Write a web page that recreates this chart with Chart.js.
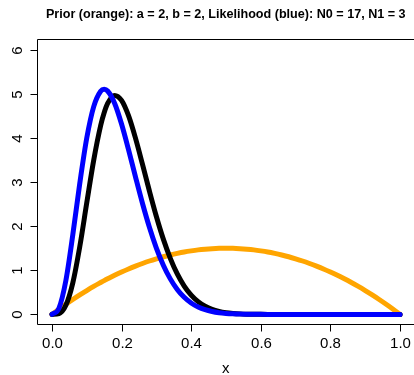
<!DOCTYPE html>
<html>
<head>
<meta charset="utf-8">
<script src="https://cdn.jsdelivr.net/npm/chart.js@4"></script>
<style>
html,body{margin:0;padding:0;background:#fff;}
#wrap{width:414px;height:375px;}
</style>
</head>
<body>
<div id="wrap"><canvas id="c" width="414" height="375"></canvas></div>
<script>
// x grid of the curves
const xs = [0,0.02,0.04,0.06,0.08,0.10,0.12,0.14,0.15,0.16,0.18,0.20,0.22,0.24,0.26,0.28,0.30,0.32,0.34,0.36,0.38,0.40,0.42,0.44,0.46,0.48,0.50,0.52,0.54,0.56,0.58,0.60,0.62,0.64,0.66,0.68,0.70,0.72,0.74,0.76,0.78,0.80,0.82,0.84,0.86,0.88,0.90,0.92,0.94,0.96,0.98,1.00];
// prior (orange)
const prior = [0,0.118,0.230,0.338,0.442,0.540,0.634,0.722,0.765,0.806,0.886,0.960,1.030,1.094,1.154,1.210,1.260,1.306,1.346,1.382,1.414,1.440,1.462,1.478,1.490,1.498,1.500,1.498,1.490,1.478,1.462,1.440,1.414,1.382,1.346,1.306,1.260,1.210,1.154,1.094,1.030,0.960,0.886,0.806,0.722,0.634,0.540,0.442,0.338,0.230,0.118,0];
// likelihood (blue)
const likelihood = [0,0.136,0.765,1.806,2.970,3.993,4.708,5.058,5.099,5.061,4.784,4.313,3.733,3.116,2.518,1.974,1.504,1.115,0.805,0.566,0.388,0.259,0.169,0.107,0.066,0.039,0.023,0.013,0.007,0.004,0.002,0.001,0.0004,0.0002,0.0001,0.00003,0.00001,0,0,0,0,0,0,0,0,0,0,0,0,0,0,0];
// posterior (black)
const posterior = [0,0.019,0.207,0.716,1.536,2.525,3.494,4.280,4.569,4.780,4.962,4.849,4.502,3.994,3.404,2.796,2.219,1.705,1.270,0.917,0.643,0.437,0.289,0.185,0.115,0.069,0.040,0.023,0.012,0.006,0.003,0.0015,0.0007,0.0003,0.0001,0.00004,0.00002,0,0,0,0,0,0,0,0,0,0,0,0,0,0,0];
// ticks
const xTicks = [0,0.2,0.4,0.6,0.8,1.0];
const xTickLabels = ["0.0","0.2","0.4","0.6","0.8","1.0"];
const yTicks = [0,1,2,3,4,5,6];
const yTickLabels = ["0","1","2","3","4","5","6"];
const titleText = "Prior (orange): a = 2, b = 2, Likelihood (blue): N0 = 17, N1 = 3";
const xLabel = "x";

const pts = arr => arr.map((v,i)=>({x:xs[i], y:v}));

const rAxes = {
  id:'rAxes',
  afterDraw(chart){
    const {ctx, chartArea:a, scales:{x, y}} = chart;
    ctx.save();
    ctx.strokeStyle = '#000';
    ctx.lineWidth = 1;
    const L = 37.5, T = Math.round(a.top)+0.5;
    const R = Math.round(a.right)+0.5, B = Math.round(a.bottom)-0.5;
    ctx.beginPath();
    ctx.rect(L, T, R-L, B-T);
    ctx.stroke();
    ctx.font = '15px "Liberation Sans", Arial, sans-serif';
    ctx.fillStyle = '#000';
    ctx.textAlign = 'center';
    ctx.textBaseline = 'middle';
    xTicks.forEach((v,i)=>{
      const px = Math.round(x.getPixelForValue(v))+0.5;
      ctx.beginPath(); ctx.moveTo(px, B); ctx.lineTo(px, B+7); ctx.stroke();
      ctx.fillText(xTickLabels[i], px, B+19);
    });
    yTicks.forEach((v,i)=>{
      const py = Math.round(y.getPixelForValue(v))+0.5;
      ctx.beginPath(); ctx.moveTo(L-7, py); ctx.lineTo(L, py); ctx.stroke();
      ctx.save();
      ctx.translate(L-20, py);
      ctx.rotate(-Math.PI/2);
      ctx.fillText(yTickLabels[i], 0, 0);
      ctx.restore();
    });
    const cx = (L + 414)/2;
    ctx.fillText(xLabel, cx, 369);
    ctx.font = 'bold 12.6px "Liberation Sans", Arial, sans-serif';
    ctx.fillText(titleText, cx, 15);
    ctx.restore();
  }
};

const common = {pointRadius:0, borderWidth:5, fill:false, cubicInterpolationMode:'monotone', borderCapStyle:'round', borderJoinStyle:'round'};

new Chart(document.getElementById('c'), {
  type:'line',
  data:{
    datasets:[
      Object.assign({label:'Likelihood', data:pts(likelihood), borderColor:'#0000FF', order:0}, common),
      Object.assign({label:'Posterior', data:pts(posterior), borderColor:'#000000', order:1}, common),
      Object.assign({label:'Prior', data:pts(prior), borderColor:'#FFA500', order:2}, common)
    ]
  },
  options:{
    responsive:false,
    animation:false,
    layout:{padding:{left:38, right:-1, top:39, bottom:50}},
    plugins:{legend:{display:false}, title:{display:false}, tooltip:{enabled:false}},
    scales:{
      x:{type:'linear', min:-0.04, max:1.04, display:false},
      y:{type:'linear', min:-0.24, max:6.24, display:false}
    }
  },
  plugins:[rAxes]
});
</script>
</body>
</html>
